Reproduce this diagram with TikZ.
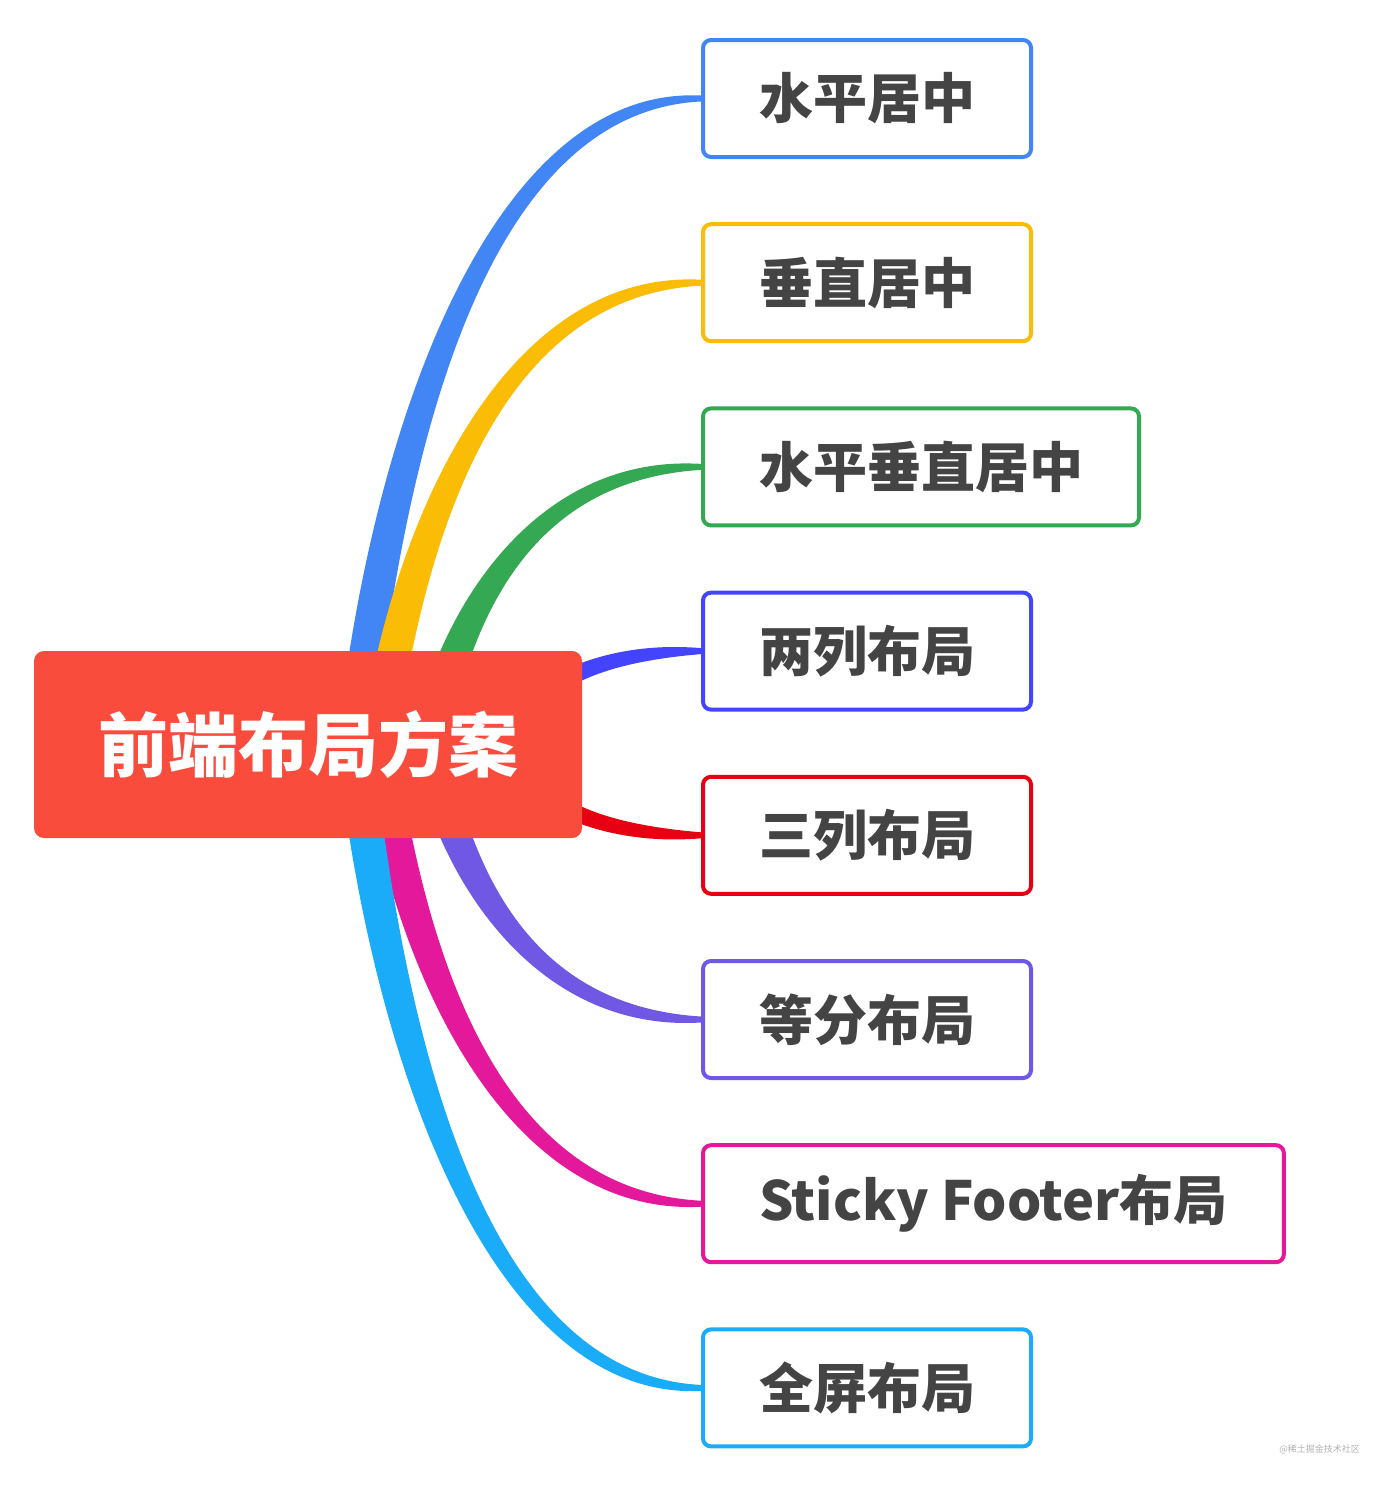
\documentclass[tikz,border=0pt]{standalone}
\usepackage{fontspec}
\newfontfamily\cjk{Noto Sans CJK SC}
\usetikzlibrary{positioning,calc,backgrounds}
\definecolor{rootcolor}{RGB}{250,76,60}
\definecolor{textcolor}{RGB}{68,68,68}
\definecolor{hcolor}{RGB}{66,133,244}
\definecolor{vcolor}{RGB}{251,188,5}
\definecolor{hvcolor}{RGB}{52,168,83}
\definecolor{twocolor}{RGB}{68,68,255}
\definecolor{threecolor}{RGB}{230,0,18}
\definecolor{eqcolor}{RGB}{112,88,228}
\definecolor{stickycolor}{RGB}{227,24,155}
\definecolor{fullcolor}{RGB}{26,172,249}

% tapered branch: root coordinate, topic node, colour
\newcommand\branch[3]{%
	\fill[#3] let \p1=(#1), \p2=(#2.west), \p3=($(#1)!.5!(#2.west)$), \n1={sign(\y2-\y1)} in
	(\x1-9pt,\y1) .. controls ({\x1+0.1*(\x2-\x1)-9pt},\y3) and ({\x1+0.4*(\x2-\x1)},{\y2+\n1*6.5pt}) .. (\x2,{\y2+\n1*1.5pt})
	-- (\x2,{\y2-\n1*1.5pt}) .. controls ({\x1+0.4*(\x2-\x1)},{\y2-\n1*6.5pt}) and ({\x1+0.1*(\x2-\x1)+9pt},\y3) .. (\x1+9pt,\y1) -- cycle;}

\begin{document}
\begin{tikzpicture}[
	x=0.5pt,y=-0.5pt,
	main/.style={
		fill=rootcolor,
		rounded corners=5pt,
		text=white,
		font=\cjk\bfseries\fontsize{35}{40}\selectfont,
		minimum width=274pt,
		minimum height=93.5pt
	},
	topic/.style={
		draw=#1,
		line width=2pt,
		rounded corners=4pt,
		fill=white,
		text=textcolor,
		font=\cjk\bfseries\fontsize{27}{30}\selectfont,
		minimum height=58.5pt,
		inner xsep=28pt,
		anchor=west
	},
	topic/.default=hcolor
	]
	\useasboundingbox (0,0) rectangle (1400,1488);
	
	% Central topic
	\node[main] (root) at (308,744.5) {前端布局方案};
	
	% Topics
	\node[topic=hcolor] (h) at (701,98.5) {水平居中};
	\node[topic=vcolor, below=31.6pt of h.south west, anchor=north west] (v) {垂直居中};
	\node[topic=hvcolor, below=31.6pt of v.south west, anchor=north west] (hv) {水平垂直居中};
	\node[topic=twocolor, below=31.6pt of hv.south west, anchor=north west] (two) {两列布局};
	\node[topic=threecolor, below=31.6pt of two.south west, anchor=north west] (three) {三列布局};
	\node[topic=eqcolor, below=31.6pt of three.south west, anchor=north west] (eq) {等分布局};
	\node[topic=stickycolor, below=31.6pt of eq.south west, anchor=north west] (sticky) {Sticky Footer布局};
	\node[topic=fullcolor, below=31.6pt of sticky.south west, anchor=north west] (full) {全屏布局};
	
	% Branch roots
	\coordinate (rh) at (355,745);
	\coordinate (rv) at (378,745);
	\coordinate (rhv) at (429,745);
	\coordinate (rtwo) at (500,745);
	\coordinate (rthree) at (500,745);
	\coordinate (req) at (429,745);
	\coordinate (rsticky) at (378,745);
	\coordinate (rfull) at (355,745);
	
	% Branches
	\begin{scope}[on background layer]
		\branch{rh}{h}{hcolor}
		\branch{rv}{v}{vcolor}
		\branch{rhv}{hv}{hvcolor}
		\branch{rtwo}{two}{twocolor}
		\branch{rthree}{three}{threecolor}
		\branch{req}{eq}{eqcolor}
		\branch{rsticky}{sticky}{stickycolor}
		\branch{rfull}{full}{fullcolor}
	\end{scope}
	
	% Watermark
	\node[font=\cjk\fontsize{4.5}{5}\selectfont, text=gray!60, anchor=east] (mark) at (1367,1449) {@稀土掘金技术社区};
	
\end{tikzpicture}
\end{document}
